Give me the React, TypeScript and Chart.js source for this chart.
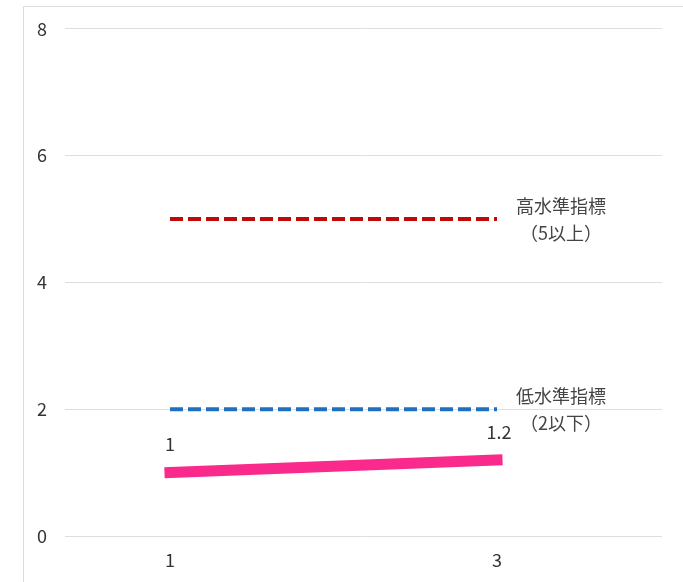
import React, { useEffect, useRef } from 'react';
import { Chart, registerables } from 'chart.js';

Chart.register(...registerables);

const xValues = [1, 3];
const actualValues = [1, 1.2];
const highValues = [5, 5];
const lowValues = [2, 2];
const xTickValues = [1, 3];
const yTickStep = 2;
const yMin = 0;
const yMax = 8;
const xMin = 0.358;
const xMax = 4.009;
const highLabel = ['高水準指標', '（5以上）'];
const lowLabel = ['低水準指標', '（2以下）'];

const FONT = '"Noto Sans CJK JP", "Noto Sans", sans-serif';
const TEXT = '#333333';

const labelPlugin = {
  id: 'customLabels',
  afterDatasetsDraw(chart: any) {
    const ctx = chart.ctx;
    ctx.save();
    ctx.fillStyle = TEXT;
    ctx.textAlign = 'center';
    ctx.textBaseline = 'middle';
    ctx.font = `18px ${FONT}`;
    const actualMeta = chart.getDatasetMeta(2);
    actualMeta.data.forEach((pt: any, i: number) => {
      ctx.fillText(String(actualValues[i]), pt.x + (i === 0 ? 0 : 2), pt.y - 28);
    });
    ctx.font = `18px ${FONT}`;
    ctx.fillStyle = '#444444';
    const notes: [number, string[]][] = [
      [0, highLabel],
      [1, lowLabel],
    ];
    notes.forEach(([idx, lines]) => {
      const meta = chart.getDatasetMeta(idx);
      const last = meta.data[meta.data.length - 1];
      const px = last.x + 64;
      ctx.fillText(lines[0], px, last.y - 13);
      ctx.fillText(lines[1], px, last.y + 14);
    });
    ctx.restore();
  },
};

export default function App() {
  const ref = useRef<HTMLCanvasElement | null>(null);

  useEffect(() => {
    if (!ref.current) return;
    const chart = new Chart(ref.current, {
      type: 'line',
      data: {
        datasets: [
          {
            label: highLabel.join(''),
            data: xValues.map((x, i) => ({ x, y: highValues[i] })),
            borderColor: '#BE0A0A',
            borderWidth: 4,
            borderDash: [13, 5],
            pointRadius: 0,
            fill: false,
          },
          {
            label: lowLabel.join(''),
            data: xValues.map((x, i) => ({ x, y: lowValues[i] })),
            borderColor: '#1F70C1',
            borderWidth: 4,
            borderDash: [13, 5],
            pointRadius: 0,
            fill: false,
          },
          {
            label: '実績',
            data: xValues.map((x, i) => ({ x, y: actualValues[i] })),
            borderColor: '#F92A8C',
            borderWidth: 11,
            borderCapStyle: 'square',
            pointRadius: 0,
            fill: false,
          },
        ],
      },
      options: {
        animation: false,
        responsive: false,
        layout: { padding: { left: 0, right: 21, top: 28, bottom: 0 } },
        plugins: {
          legend: { display: false },
          tooltip: { enabled: false },
        },
        scales: {
          x: {
            type: 'linear',
            min: xMin,
            max: xMax,
            grid: { display: false, drawTicks: false },
            border: { display: false },
            afterBuildTicks: (scale: any) => {
              scale.ticks = xTickValues.map((v) => ({ value: v }));
            },
            afterFit: (scale: any) => {
              scale.height = 46;
            },
            ticks: {
              padding: 13,
              color: TEXT,
              font: { family: FONT, size: 18 },
              callback: (v: any) => String(v),
            },
          },
          y: {
            min: yMin,
            max: yMax,
            grid: { color: '#dedede', lineWidth: 1, drawTicks: false },
            border: { display: false },
            afterFit: (scale: any) => {
              scale.width = 65;
            },
            ticks: {
              stepSize: yTickStep,
              padding: 18,
              color: TEXT,
              font: { family: FONT, size: 18 },
            },
          },
        },
      },
      plugins: [labelPlugin],
    } as any);
    return () => chart.destroy();
  }, []);

  return (
    <div style={{ position: 'absolute', left: 0, top: 0, width: 683, height: 582, background: '#fff', overflow: 'hidden' }}>
      <div
        style={{
          position: 'absolute',
          left: 23,
          top: 6,
          right: 0,
          bottom: 0,
          borderLeft: '1px solid #dcdcdc',
          borderTop: '1px solid #dcdcdc',
        }}
      />
      <canvas ref={ref} width={683} height={582} style={{ position: 'absolute', left: 0, top: 0, width: 683, height: 582 }} />
    </div>
  );
}
